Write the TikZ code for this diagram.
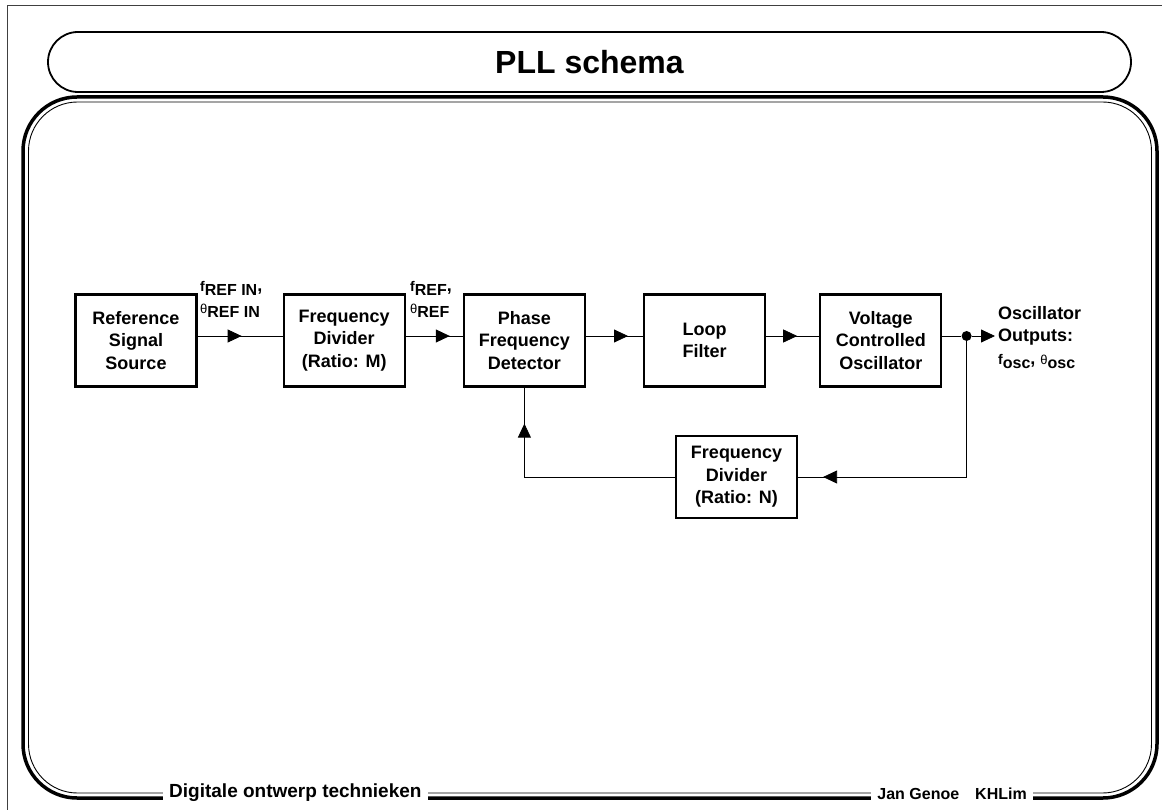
\documentclass[tikz,border=0pt]{standalone}
\usepackage{fontspec}
\setmainfont{Liberation Sans}
\usetikzlibrary{arrows.meta, positioning, decorations.markings}

\newcommand{\lowsub}[1]{\raisebox{-4pt}{\fontsize{16}{16}\selectfont #1}}
\newcommand{\symf}{{\fontsize{14}{14}\selectfont f}}
\newcommand{\symth}{{\fontsize{13}{13}\selectfont\mdseries θ}}

\begin{document}
\begin{tikzpicture}[
        x=1pt, y=-1pt,
        >={Triangle[length=14pt, width=13pt]},
        node distance=57pt,
        font=\bfseries\fontsize{18}{22.5}\selectfont
    ]
    \tikzset{
        block/.style = {draw, line width=2.2pt, minimum width=121pt,
                        minimum height=92pt, align=center, inner sep=0pt},
        sig/.style = {line width=0.8pt},
        midtip/.style = {postaction={decorate}, decoration={markings,
                        mark=at position #1 with {\arrow{>}}}},
        sigtext/.style = {align=left, inner sep=0pt},
        blackdot/.style = {circle, fill, inner sep=0pt, minimum size=10pt},
        footer/.style = {fill=white, inner xsep=6pt, inner ysep=3pt}
    }

    % page frame
    \useasboundingbox (0,0) rectangle (1165,810);
    \draw[line width=0.8pt, black!75] (7,810) -- (7,5) -- (1162,5);
    \draw[line width=1.8pt, rounded corners=30pt] (48,32) rectangle (1131,92);
    \node[font=\bfseries\fontsize{32}{32}\selectfont] (title) at (589.5,62) {PLL schema};
    \draw[line width=3.5pt, rounded corners=54pt] (23,97) rectangle (1157,798);
    \draw[line width=0.9pt, rounded corners=49pt] (28.5,102) rectangle (1151.5,793);

    % footer texts on the frame
    \node[footer, anchor=west, font=\bfseries\fontsize{19}{19}\selectfont] (course) at (163,793) {Digitale ontwerp technieken};
    \node[footer, anchor=east, font=\bfseries\fontsize{16}{16}\selectfont] (author) at (1033,794) {Jan Genoe\quad KHLim};

    % forward path
    \node[block] (ref) at (136,340.5) {Reference\\Signal\\Source};
    \node[block, right=85pt of ref] (fdm) {Frequency\\Divider\\(Ratio: M)};
    \node[block, right=of fdm] (pfd) {Phase\\Frequency\\Detector};
    \node[block, right=of pfd] (lf) {Loop\\Filter};
    \node[block, right=53pt of lf] (vco) {Voltage\\Controlled\\Oscillator};

    % feedback divider
    \node[block, minimum height=82pt] (fdn) at (736.5,477) {Frequency\\Divider\\(Ratio: N)};

    % output node
    \node[blackdot, right=19pt of vco.east, yshift=4.5pt] (dot) {};
    \node[sigtext, anchor=north west] (osc) at (998,306) {Oscillator\\Outputs:\\\symf\lowsub{osc}, \symth\lowsub{osc}};

    % signal labels
    \node[sigtext, anchor=north west] (inlab) at (200,281) {\symf\lowsub{REF IN},\\\symth\lowsub{REF IN}};
    \node[sigtext, anchor=north west] (reflab) at (410,281) {\symf\lowsub{REF},\\\symth\lowsub{REF}};

    % connections
    \draw[sig, midtip=-41pt] ([yshift=4.5pt]ref.east) -- ([yshift=4.5pt]fdm.west);
    \draw[sig, midtip=-13pt] ([yshift=4.5pt]fdm.east) -- ([yshift=4.5pt]pfd.west);
    \draw[sig, midtip=-15pt] ([yshift=4.5pt]pfd.east) -- ([yshift=4.5pt]lf.west);
    \draw[sig, midtip=-22pt] ([yshift=4.5pt]lf.east) -- ([yshift=4.5pt]vco.west);
    \draw[sig] ([yshift=4.5pt]vco.east) -- (dot);
    \draw[sig, ->, shorten >=3pt] (dot) -- (dot -| osc.west);
    \draw[sig, midtip=-25pt] (dot) |- (fdn);
    \draw[sig, midtip=-36pt] (fdn) -| (pfd);
\end{tikzpicture}
\end{document}
